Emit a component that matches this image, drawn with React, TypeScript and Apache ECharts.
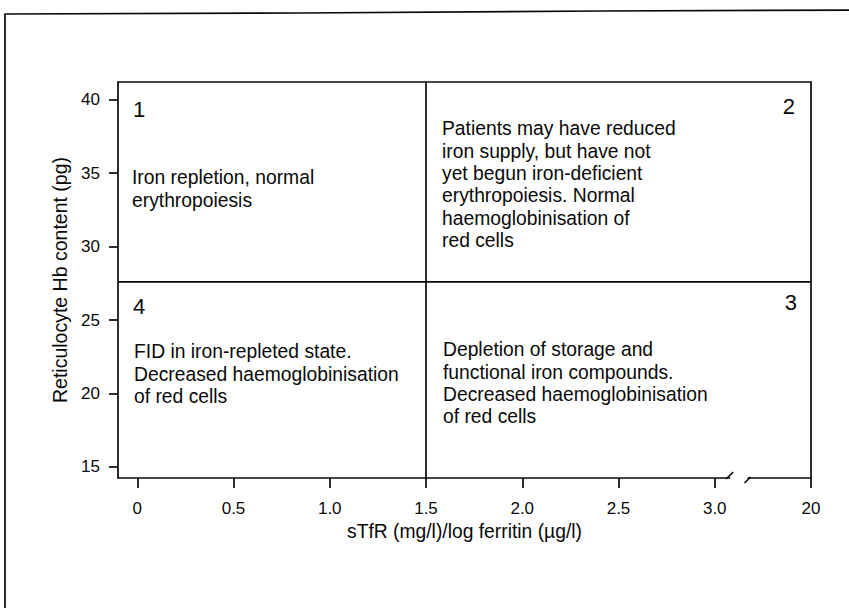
import React, { useEffect, useRef } from "react";
import * as echarts from "echarts";

// ---------- data ----------
const xTickValues = [0, 0.5, 1.0, 1.5, 2.0, 2.5, 3.0, 3.5];
const xTickLabels = ["0", "0.5", "1.0", "1.5", "2.0", "2.5", "3.0", "20"];
const yTickValues = [15, 20, 25, 30, 35, 40];
const yTickLabels = ["15", "20", "25", "30", "35", "40"];
const xRange = [-0.1, 3.5];
const yRange = [14.25, 41.2];
const xDivider = 1.5;
const yDivider = 27.6;
const axisBreak = [3.08, 3.17];
const quadrantNumbers = ["1", "2", "3", "4"];
const quadrantTexts = [
  ["Iron repletion, normal", "erythropoiesis"],
  [
    "Patients may have reduced",
    "iron supply, but have not",
    "yet begun iron-deficient",
    "erythropoiesis. Normal",
    "haemoglobinisation of",
    "red cells",
  ],
  [
    "Depletion of storage and",
    "functional iron compounds.",
    "Decreased haemoglobinisation",
    "of red cells",
  ],
  ["FID in iron-repleted state.", "Decreased haemoglobinisation", "of red cells"],
];
const xAxisTitle = "sTfR (mg/l)/log ferritin (\u00b5g/l)";
const yAxisTitle = "Reticulocyte Hb content (pg)";

// ---------- layout (pixels, not data) ----------
const FONT = "'Liberation Sans', Arial, Helvetica, sans-serif";
const INK = "#0a0a0a";
const TEXT_SIZE = 19.3;
const LINE_H = 22.3;
const NUM_SIZE = 22;
const LW = 1.7;
const quadLayout = [
  { side: "left", numDx: 15, numDy: 27, txtDx: 14, txtDy: 96 },
  { side: "right", numDx: 16, numDy: 24, txtDx: 16, txtDy: 47 },
  { side: "right", numDx: 14, numDy: 21, txtDx: 17, txtDy: 68 },
  { side: "left", numDx: 15, numDy: 25, txtDx: 16, txtDy: 70 },
];

function quadBounds(i: number) {
  if (i === 0) return [xRange[0], xDivider, yDivider, yRange[1]];
  if (i === 1) return [xDivider, xRange[1], yDivider, yRange[1]];
  if (i === 2) return [xDivider, xRange[1], yRange[0], yDivider];
  return [xRange[0], xDivider, yRange[0], yDivider];
}

function findLabel(values: number[], labels: string[], v: number) {
  const k = values.findIndex((t) => Math.abs(t - v) < 1e-6);
  return k >= 0 ? labels[k] : "";
}

export default function App() {
  const ref = useRef<HTMLDivElement>(null);

  useEffect(() => {
    if (!ref.current) return;
    const chart = echarts.init(ref.current, undefined, { renderer: "svg" });

    const option: any = {
      animation: false,
      backgroundColor: "#fff",
      textStyle: { fontFamily: FONT, color: INK },
      grid: {
        left: 118,
        right: 38,
        top: 82,
        bottom: 130,
        show: true,
        borderColor: INK,
        borderWidth: LW,
        backgroundColor: "transparent",
      },
      graphic: [
        {
          type: "polyline",
          silent: true,
          shape: { points: [[5, 640], [5, 14], [300, 13], [600, 11], [870, 10]] },
          style: { fill: "none", stroke: INK, lineWidth: LW },
        },
      ],
      xAxis: {
        type: "value",
        min: xRange[0],
        max: xRange[1],
        splitLine: { show: false },
        axisLine: { show: false, onZero: false },
        axisTick: {
          show: true,
          length: 10,
          customValues: xTickValues,
          lineStyle: { color: INK, width: LW },
        },
        axisLabel: {
          customValues: xTickValues,
          margin: 22,
          fontSize: 17,
          fontFamily: FONT,
          color: INK,
          formatter: (v: number) => findLabel(xTickValues, xTickLabels, v),
        },
        name: xAxisTitle,
        nameLocation: "middle",
        nameGap: 43,
        nameTextStyle: { fontSize: 19.3, fontFamily: FONT, color: INK },
      },
      yAxis: {
        type: "value",
        min: yRange[0],
        max: yRange[1],
        splitLine: { show: false },
        axisLine: { show: false, onZero: false },
        axisTick: {
          show: true,
          length: 9,
          customValues: yTickValues,
          lineStyle: { color: INK, width: LW },
        },
        axisLabel: {
          customValues: yTickValues,
          margin: 18,
          fontSize: 17,
          fontFamily: FONT,
          color: INK,
          formatter: (v: number) => findLabel(yTickValues, yTickLabels, v),
        },
        name: yAxisTitle,
        nameLocation: "middle",
        nameGap: 46,
        nameTextStyle: { fontSize: 19.5, fontFamily: FONT, color: INK },
      },
      series: [
        {
          type: "line",
          data: [
            [xDivider, yRange[0]],
            [xDivider, yRange[1]],
          ],
          symbol: "none",
          lineStyle: { color: INK, width: LW },
          silent: true,
        },
        {
          type: "line",
          data: [
            [xRange[0], yDivider],
            [xRange[1], yDivider],
          ],
          symbol: "none",
          lineStyle: { color: INK, width: LW },
          silent: true,
        },
        {
          type: "custom",
          silent: true,
          clip: false,
          data: quadrantNumbers.map((_, i) => [i]),
          renderItem: (_params: any, api: any) => {
            const i = api.value(0);
            const b = quadBounds(i);
            const tl = api.coord([b[0], b[3]]);
            const br = api.coord([b[1], b[2]]);
            const L = quadLayout[i];
            const numX = L.side === "left" ? tl[0] + L.numDx : br[0] - L.numDx;
            return {
              type: "group",
              children: [
                {
                  type: "text",
                  x: numX,
                  y: tl[1] + L.numDy,
                  style: {
                    text: quadrantNumbers[i],
                    font: `${NUM_SIZE}px ${FONT}`,
                    fill: INK,
                    align: L.side === "left" ? "left" : "right",
                    verticalAlign: "middle",
                  },
                },
                {
                  type: "text",
                  x: tl[0] + L.txtDx,
                  y: tl[1] + L.txtDy - LINE_H / 2,
                  style: {
                    text: quadrantTexts[i].join("\n"),
                    font: `${TEXT_SIZE}px ${FONT}`,
                    fill: INK,
                    lineHeight: LINE_H,
                    align: "left",
                    verticalAlign: "top",
                  },
                },
              ],
            };
          },
        },
        {
          type: "custom",
          silent: true,
          clip: false,
          z: 5,
          data: [[axisBreak[0], axisBreak[1]]],
          renderItem: (_params: any, api: any) => {
            const p0 = api.coord([api.value(0), yRange[0]]);
            const p1 = api.coord([api.value(1), yRange[0]]);
            return {
              type: "group",
              children: [
                {
                  type: "rect",
                  shape: { x: p0[0], y: p0[1] - 3, width: p1[0] - p0[0], height: 6 },
                  style: { fill: "#fff" },
                },
                {
                  type: "line",
                  shape: { x1: p0[0] - 4, y1: p0[1] + 1, x2: p0[0] + 3, y2: p0[1] - 6 },
                  style: { stroke: INK, lineWidth: LW },
                },
                {
                  type: "line",
                  shape: { x1: p1[0] - 3, y1: p1[1] + 5, x2: p1[0] + 3, y2: p1[1] - 1 },
                  style: { stroke: INK, lineWidth: LW },
                },
              ],
            };
          },
        },
      ],
    };

    chart.setOption(option);
    return () => chart.dispose();
  }, []);

  return (
    <div
      ref={ref}
      style={{ position: "fixed", left: 0, top: 0, width: 849, height: 608, background: "#fff" }}
    />
  );
}
